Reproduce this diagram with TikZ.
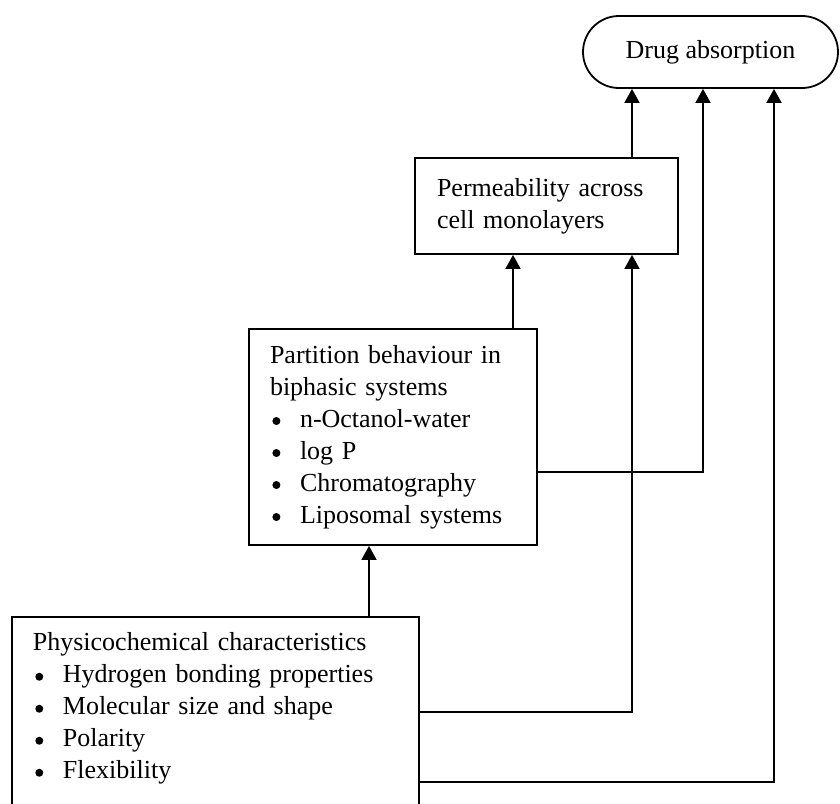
\documentclass[tikz,border=0pt]{standalone}
\usepackage{fontspec}
\setmainfont{Liberation Serif}
\usetikzlibrary{arrows.meta,positioning}
\newcommand{\bul}{\makebox[15pt][l]{\hspace{1.2pt}\raisebox{1.1pt}{\tikz\fill (0,0) circle (2pt);}}}

\begin{document}
\begin{tikzpicture}[x=0.5pt,y=-0.5pt,
  box/.style={draw,line width=0.9pt,align=left,inner ysep=0pt,font=\fontsize{13}{16}\selectfont},
  pill/.style={draw,line width=0.9pt,rounded corners=18pt,minimum width=127.5pt,minimum height=36pt,font=\fontsize{13}{16}\selectfont},
  arr/.style={line width=0.9pt,-{Triangle[length=7pt,width=7.5pt]}}]
\useasboundingbox (0,0) rectangle (840,803);
\node[pill] (drug) at (710.5,52) {Drug absorption};
\node[box,text width=109.5pt,inner xsep=11pt,minimum height=48pt] (perm) at (546.5,206)
{Permeability across\\cell monolayers};
\node[box,text width=123pt,inner xsep=10.5pt,minimum height=108pt] (part) at (393,437)
{Partition behaviour in\\biphasic systems\\\bul n-Octanol-water\\\bul log P\\\bul Chromatography\\\bul Liposomal systems};
\node[box,text width=182.5pt,inner xsep=10.5pt,inner ysep=8pt,anchor=north west] (phys) at (11,616)
{Physicochemical characteristics\\\bul Hydrogen bonding properties\\\bul Molecular size and shape\\\bul Polarity\\\bul Flexibility\\\mbox{}};
\coordinate (laneA) at (513,0);
\coordinate (laneB) at (632,0);
\coordinate (laneC) at (703,0);
\coordinate (laneD) at (774,0);
\coordinate (laneE) at (369,0);
\coordinate (rowP) at (0,472);
\coordinate (rowM) at (0,712);
\coordinate (rowF) at (0,782);
\draw[arr] (perm.north -| laneB) -- (drug.south -| laneB);
\draw[arr] (part.north -| laneA) -- (perm.south -| laneA);
\draw[arr] (phys.north -| laneE) -- (part.south -| laneE);
\draw[arr] (part.east |- rowP) -| (drug.south -| laneC);
\draw[arr] (phys.east |- rowM) -| (perm.south -| laneB);
\draw[arr] (phys.east |- rowF) -| (drug.south -| laneD);
\end{tikzpicture}
\end{document}
